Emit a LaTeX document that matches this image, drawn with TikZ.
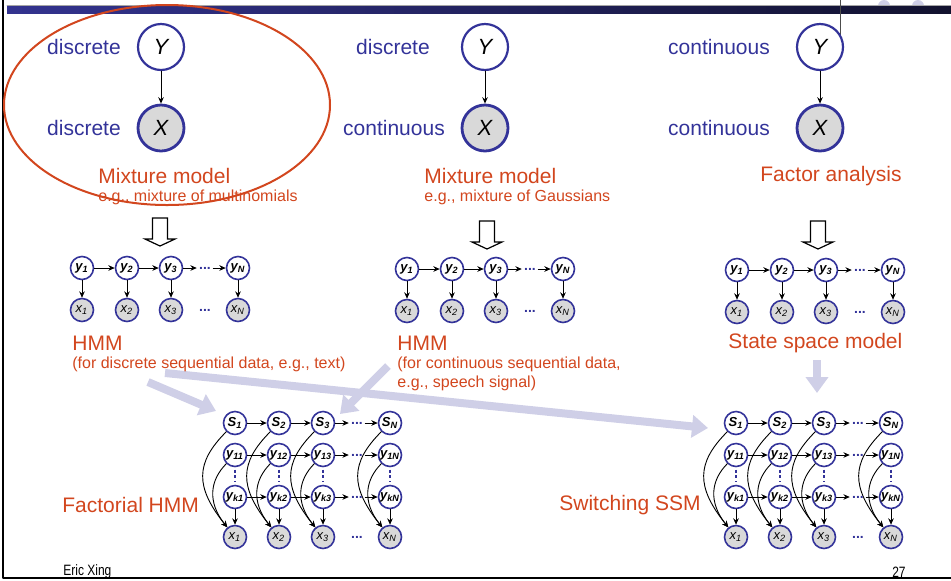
\documentclass[tikz,border=0pt]{standalone}
\usepackage{fontspec}
\setmainfont{Liberation Sans}
\newfontfamily\narrowsans[FakeStretch=0.8]{Liberation Sans}
\usetikzlibrary{arrows.meta,positioning}
\definecolor{varblue}{HTML}{333399}
\definecolor{slidered}{HTML}{D2461E}
\definecolor{hintlilac}{HTML}{CFCFE7}
\definecolor{obsgray}{HTML}{D9D9D9}
\definecolor{barleft}{HTML}{33338F}
\definecolor{barright}{HTML}{12122E}
\tikzset{
  every picture/.append style={line cap=round,line join=round},
  big var/.style={circle,draw=varblue,line width=1.1pt,fill=white,minimum size=23pt,inner sep=0pt,font=\fontsize{11}{11}\selectfont\itshape},
  big obs/.style={big var,fill=obsgray,line width=1.4pt},
  hid var/.style={circle,draw=varblue,line width=0.8pt,fill=white,minimum size=11.5pt,inner sep=0pt,font=\fontsize{6.5}{6.5}\selectfont\bfseries\itshape},
  obs var/.style={hid var,fill=obsgray,font=\fontsize{6.5}{6.5}\selectfont\itshape},
  chain dots/.style={text=varblue,font=\fontsize{7}{7}\selectfont\bfseries,inner sep=1pt},
  vert dots/.style={varblue,line width=1.3pt,line cap=butt,dash pattern=on 1.5pt off 1.3pt,shorten <=1.2pt,shorten >=1.2pt},
  edge arrow/.style={-{Stealth[length=3.2pt,width=2.8pt]},line width=0.45pt},
  type label/.style={text=varblue,font=\fontsize{10.5}{12}\selectfont},
  model label/.style={text=slidered,font=\fontsize{10.5}{12}\selectfont,anchor=west,inner sep=0pt},
  model note/.style={text=slidered,font=\fontsize{8}{9.6}\selectfont,anchor=west,inner sep=0pt,align=left},
  footer/.style={font=\narrowsans\fontsize{7.5}{8}\selectfont,inner sep=0pt},
  hint arrow/.style={draw=hintlilac,line width=4pt,line cap=butt,-{Triangle[length=8pt,width=11pt]}},
  down block/.pic={
    \draw[line width=0.6pt,line join=miter,fill=white] (-7.5,0) -- (7.5,0) -- (7.5,21) -- (15,21) -- (0,28) -- (-15,21) -- (-7.5,21) -- cycle;
  }
}

\begin{document}
\begin{tikzpicture}[x=0.5pt,y=-0.5pt]
\useasboundingbox (0,0) rectangle (951,580);
% slide frame
\fill[hintlilac] (884,6) circle [radius=6] (918,6) circle [radius=6];
\draw[gray!70,line width=0.4pt] (7,5) -- (951,5);
\shade[left color=barleft,right color=barright] (7,6) rectangle (951,13);
\draw[line width=1pt] (3,0) -- (3,578) -- (951,578);
\draw[gray!60!black,line width=0.5pt] (840,0) -- (840,38);
\node[footer,anchor=west] (author) at (63,572) {Eric Xing};
\node[footer,anchor=east] (page) at (906,572) {27};

% big hint arrows
\coordinate (hintA) at (148,382);
\coordinate (hintB) at (216,411);
\coordinate (hintC) at (388,366);
\coordinate (hintD) at (340,414);
\coordinate (hintE) at (165,373);
\coordinate (hintF) at (708,428);
\coordinate (hintG) at (817,360);
\coordinate (hintH) at (817,393);
\draw[hint arrow] (hintA) -- (hintB);
\draw[hint arrow] (hintC) -- (hintD);
\draw[hint arrow] (hintE) -- (hintF);
\draw[hint arrow] (hintG) -- (hintH);

% Y -> X models
\node[big var] (Ya) at (161,47) {Y};
\node[big obs] (Xa) at (161,128) {X};
\node[type label] (ta) at (84,47) {discrete};
\node[type label] (tb) at (84,128) {discrete};
\node[model label] (ma) at (98,176) {Mixture model};
\node[model note] (na) at (98,197) {e.g., mixture of multinomials};
\draw[edge arrow] (Ya) -- (Xa);

\node[big var] (Yb) at (485,47) {Y};
\node[big obs] (Xb) at (485,128) {X};
\node[type label] (tc) at (393,47) {discrete};
\node[type label] (td) at (394,128) {continuous};
\node[model label] (mb) at (424,176) {Mixture model};
\node[model note] (nb) at (424,197) {e.g., mixture of Gaussians};
\draw[edge arrow] (Yb) -- (Xb);

\node[big var] (Yc) at (820,47) {Y};
\node[big obs] (Xc) at (820,128) {X};
\node[type label] (te) at (719,47) {continuous};
\node[type label] (tf) at (719,128) {continuous};
\node[model label] (mc) at (760,176) {Factor analysis};
\draw[edge arrow] (Yc) -- (Xc);

\draw[slidered,line width=1pt] (167,105) ellipse [x radius=163, y radius=100];

\pic at (160,218) {down block};
\pic at (487,221) {down block};
\pic at (818,221) {down block};

% chains
\foreach \p/\ox/\oy in {a/82/268, b/407/269, c/737/270}{
  \foreach \i/\dx in {1/0, 2/45, 3/89, N/156}{
    \node[hid var] (\p y\i) at (\ox+\dx,\oy) {y\textsubscript{\i}};
    \node[obs var] (\p x\i) at (\ox+\dx,\oy+42) {x\textsubscript{\i}};
    \draw[edge arrow] (\p y\i) -- (\p x\i);
  }
  \node[chain dots] (\p yd) at (\ox+123,\oy) {...};
  \node[chain dots] (\p xd) at (\ox+123,\oy+42) {...};
  \draw[edge arrow] (\p y1) -- (\p y2);
  \draw[edge arrow] (\p y2) -- (\p y3);
  \draw[edge arrow] (\p y3) -- (\p yd);
  \draw[edge arrow] (\p yd) -- (\p yN);
}
\node[model label] (ha) at (72,343) {HMM};
\node[model note] (hna) at (72,364) {(for discrete sequential data, e.g., text)};
\node[model label] (hb) at (397,343) {HMM};
\node[model note] (hnb) at (397,374) {(for continuous sequential data,\\e.g., speech signal)};
\node[model label] (hc) at (728,343) {State space model};

% factorial HMM and switching SSM
\foreach \p/\ox in {f/235, s/736}{
  \foreach \i/\dx in {1/0, 2/44, 3/88, N/155}{
    \node[hid var] (\p S\i) at (\ox+\dx,423) {S\textsubscript{\i}};
    \node[hid var] (\p u\i) at (\ox+\dx,455) {y\textsubscript{1\i}};
    \node[hid var] (\p k\i) at (\ox+\dx,497) {y\textsubscript{k\i}};
    \node[obs var] (\p x\i) at (\ox+\dx,537) {x\textsubscript{\i}};
    \draw[vert dots] (\p u\i) -- (\p k\i);
    \draw[edge arrow] (\p k\i) -- (\p x\i);
    \draw[edge arrow] (\p S\i) .. controls +(-40,40) and +(-40,-50) .. (\p x\i);
    \draw[edge arrow] (\p u\i) .. controls +(-25,25) and +(-28,-35) .. (\p x\i);
  }
  \foreach \r/\ry in {S/423, u/455, k/497}{
    \node[chain dots] (\p\r d) at (\ox+122,\ry) {...};
    \draw[edge arrow] (\p\r 1) -- (\p\r 2);
    \draw[edge arrow] (\p\r 2) -- (\p\r 3);
    \draw[edge arrow] (\p\r 3) -- (\p\r d);
    \draw[edge arrow] (\p\r d) -- (\p\r N);
  }
  \node[chain dots] (\p xd) at (\ox+122,537) {...};
}
\node[model label] (fa) at (62,505) {Factorial HMM};
\node[model label] (sa) at (559,505) {Switching SSM};
\end{tikzpicture}
\end{document}
